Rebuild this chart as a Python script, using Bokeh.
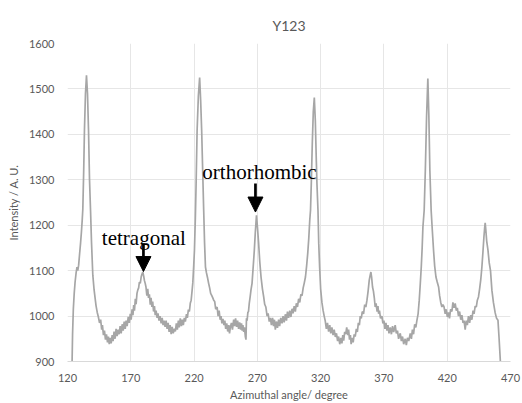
from bokeh.plotting import figure
from bokeh.models import FixedTicker, Arrow, NormalHead, Label, Range1d
from bokeh.embed import file_html
from bokeh.resources import INLINE

# ---- data ----
angle = [
    123.5, 124.0, 124.6, 125.3, 126.0, 126.8, 127.5, 128.1, 128.8, 129.5,
    130.3, 131.0, 131.6, 132.1, 132.8, 133.4, 134.2, 135.0, 135.8, 136.6,
    137.4, 138.2, 139.0, 140.0, 141.0, 142.0, 142.6, 143.5, 144.4, 145.3,
    146.2, 147.0, 147.6, 148.4, 149.2, 150.0, 150.8, 151.6, 152.3, 153.0,
    153.8, 154.5, 155.3, 156.0, 156.8, 157.6, 158.4, 159.2, 160.0, 160.8,
    161.6, 162.4, 163.2, 164.0, 164.8, 165.6, 166.3, 167.1, 168.0, 168.8,
    169.6, 170.3, 171.0, 171.7, 172.3, 172.9, 173.6, 174.2, 174.9, 175.5,
    176.2, 176.8, 177.5, 178.2, 178.8, 179.5, 180.2, 180.8, 181.4, 182.0,
    182.7, 183.4, 184.0, 184.7, 185.4, 186.0, 186.7, 187.3, 188.0, 188.7,
    189.3, 190.0, 190.8, 191.5, 192.3, 193.1, 194.0, 194.8, 195.5, 196.3,
    197.1, 197.9, 198.7, 199.5, 200.3, 201.1, 201.9, 202.7, 203.5, 204.5,
    205.2, 206.0, 206.8, 207.6, 208.3, 209.1, 210.0, 210.7, 211.5, 212.3,
    213.1, 214.0, 214.7, 215.5, 216.3, 217.0, 217.7, 218.4, 219.0, 219.7,
    220.3, 221.0, 221.6, 222.4, 223.4, 224.4, 225.2, 226.0, 226.8, 227.6,
    228.3, 229.0, 229.8, 230.6, 231.5, 232.3, 233.1, 234.0, 234.8, 235.5,
    236.3, 237.1, 238.2, 239.0, 239.8, 240.6, 241.3, 242.0, 242.8, 243.6,
    244.3, 245.0, 245.8, 246.6, 247.4, 248.0, 248.7, 249.5, 250.3, 251.3,
    252.0, 252.8, 253.6, 254.4, 255.2, 256.0, 256.8, 257.5, 258.0, 258.6,
    259.2, 259.8, 260.5, 261.0, 261.4, 261.9, 262.5, 263.0, 263.6, 264.2,
    265.0, 265.8, 266.5, 267.0, 267.6, 268.4, 269.3, 270.1, 271.0, 271.9,
    272.9, 274.0, 275.0, 275.8, 276.7, 277.7, 278.5, 279.4, 280.3, 281.1,
    282.0, 282.8, 283.5, 284.2, 285.0, 285.9, 286.8, 287.6, 288.5, 289.5,
    290.3, 291.2, 292.1, 293.0, 293.8, 294.7, 295.6, 296.5, 297.4, 298.2,
    299.1, 300.0, 300.8, 301.7, 302.6, 303.5, 304.4, 305.3, 306.2, 307.0,
    308.0, 308.9, 309.8, 310.6, 311.4, 312.0, 312.6, 313.4, 314.2, 315.0,
    315.8, 316.6, 317.1, 317.9, 318.5, 319.2, 320.0, 321.0, 321.9, 322.8,
    323.6, 324.5, 325.4, 326.3, 327.2, 328.0, 328.9, 329.8, 330.7, 331.6,
    332.5, 333.4, 334.2, 335.1, 336.0, 336.8, 337.5, 338.2, 339.0, 339.8,
    340.6, 341.4, 342.1, 342.8, 343.5, 344.1, 344.9, 345.7, 346.5, 347.3,
    348.2, 349.0, 349.8, 350.6, 351.3, 352.1, 352.9, 353.9, 354.8, 355.7,
    356.6, 357.5, 358.4, 359.0, 359.7, 360.3, 361.0, 361.7, 362.4, 363.1,
    363.8, 364.6, 365.3, 365.8, 366.5, 367.3, 368.4, 369.2, 370.0, 370.8,
    371.6, 372.4, 373.2, 374.0, 375.0, 375.9, 376.8, 377.7, 378.9, 379.8,
    380.7, 381.6, 382.9, 383.8, 384.7, 385.6, 386.8, 387.7, 388.6, 389.6,
    390.8, 391.7, 392.5, 393.4, 394.3, 395.2, 396.1, 397.0, 397.9, 398.7,
    399.5, 400.2, 400.8, 401.8, 402.7, 403.7, 404.7, 405.5, 406.3, 407.3,
    408.2, 409.2, 410.1, 411.1, 412.1, 413.2, 414.0, 414.9, 415.8, 416.6,
    417.5, 418.4, 419.2, 420.1, 421.0, 421.8, 422.7, 423.7, 424.5, 425.4,
    426.3, 427.2, 428.0, 428.9, 429.8, 430.7, 431.6, 432.5, 433.3, 434.2,
    435.0, 435.9, 436.8, 437.7, 438.6, 439.5, 440.4, 441.2, 442.1, 443.0,
    443.8, 444.7, 445.6, 446.5, 447.4, 448.2, 449.0, 449.6, 450.0, 450.5,
    451.2, 452.2, 453.2, 454.2, 455.3, 456.5, 457.9, 459.0, 460.1, 461.0,
    462.0, 463.0,
]
intensity = [
    880, 960, 1015, 1050, 1075, 1095, 1108, 1100, 1112, 1135,
    1160, 1185, 1210, 1235, 1320, 1410, 1490, 1530, 1490, 1410,
    1300, 1233, 1160, 1090, 1058, 1035, 1022, 1008, 998, 985,
    992, 970, 980, 958, 968, 948, 960, 942, 955, 938,
    952, 940, 958, 945, 966, 950, 972, 956, 970, 960,
    978, 962, 982, 968, 988, 972, 990, 978, 998, 985,
    1005, 992, 1015, 1002, 1024, 1012, 1038, 1026, 1050, 1057,
    1062, 1075, 1072, 1086, 1092, 1097, 1088, 1078, 1072, 1064,
    1045, 1060, 1040, 1048, 1025, 1040, 1020, 1032, 1010, 1022,
    1002, 1012, 996, 1006, 990, 1000, 984, 996, 980, 990,
    976, 990, 972, 985, 965, 980, 960, 976, 962, 972,
    966, 984, 970, 990, 975, 995, 978, 992, 980, 996,
    988, 1004, 996, 1014, 1010, 1028, 1035, 1055, 1073, 1110,
    1145, 1215, 1290, 1409, 1485, 1525, 1475, 1409, 1320, 1233,
    1160, 1108, 1095, 1085, 1072, 1062, 1050, 1045, 1040, 1035,
    1032, 1015, 1020, 1000, 1012, 992, 1000, 984, 994, 980,
    990, 972, 984, 966, 980, 962, 976, 985, 970, 992,
    978, 995, 976, 990, 972, 986, 970, 984, 968, 980,
    965, 975, 955, 948, 995, 990, 1008, 1010, 1028, 1040,
    1058, 1072, 1100, 1120, 1145, 1185, 1222, 1195, 1160, 1120,
    1086, 1060, 1042, 1026, 1020, 1000, 1006, 988, 996, 980,
    996, 978, 992, 970, 988, 974, 992, 978, 996, 984,
    1000, 986, 1004, 990, 1010, 996, 1012, 998, 1016, 1006,
    1022, 1010, 1028, 1020, 1038, 1030, 1048, 1045, 1062, 1072,
    1086, 1110, 1138, 1170, 1211, 1233, 1290, 1380, 1450, 1481,
    1430, 1340, 1290, 1233, 1160, 1108, 1060, 1030, 1013, 1000,
    990, 972, 985, 966, 980, 962, 975, 958, 970, 954,
    962, 945, 955, 938, 952, 940, 958, 946, 965, 960,
    975, 958, 970, 948, 958, 938, 952, 942, 960, 955,
    972, 965, 985, 980, 1000, 995, 1010, 1005, 1025, 1020,
    1035, 1055, 1079, 1088, 1097, 1085, 1064, 1055, 1040, 1020,
    1028, 1010, 1022, 1005, 1012, 995, 1000, 984, 990, 972,
    985, 968, 980, 962, 975, 960, 978, 965, 980, 962,
    968, 950, 962, 945, 955, 938, 950, 936, 952, 945,
    962, 950, 970, 960, 982, 975, 991, 1005, 1035, 1070,
    1108, 1150, 1196, 1233, 1320, 1440, 1523, 1440, 1320, 1233,
    1190, 1145, 1110, 1086, 1075, 1064, 1045, 1030, 1020, 1025,
    1020, 1005, 1015, 998, 1008, 995, 1015, 1010, 1030, 1018,
    1028, 1012, 1018, 1000, 1010, 992, 1002, 985, 990, 970,
    990, 980, 1000, 985, 1002, 992, 1012, 1005, 1022, 1020,
    1035, 1042, 1060, 1080, 1108, 1140, 1174, 1195, 1205, 1190,
    1165, 1145, 1117, 1100, 1057, 1030, 1007, 995, 991, 950,
    900, 860,
]

x_ticks = [120, 170, 220, 270, 320, 370, 420, 470]
y_ticks = [900, 1000, 1100, 1200, 1300, 1400, 1500, 1600]

# annotations (peak labels)
ann_text = ["tetragonal", "orthorhombic"]
ann_angle = [180.0, 268.5]          # arrow position
ann_tip = [1098, 1229]              # arrow tip intensity
ann_tail = [1160, 1292]             # arrow tail intensity
ann_text_angle = [180.3, 271.7]
ann_text_base = [1172, 1317]

FONT = "Lato"
GRAY = "#595959"

p = figure(width=522, height=403, output_backend="svg", toolbar_location=None,
           x_range=Range1d(120, 470), y_range=Range1d(900, 1600),
           min_border_left=67, min_border_right=12, min_border_top=43, min_border_bottom=41,
           title="Y123")
p.outline_line_color = None
p.background_fill_color = "white"
p.border_fill_color = "white"

p.title.align = "center"
p.title.text_font = FONT
p.title.text_font_size = "14px"
p.title.text_font_style = "normal"
p.title.text_color = GRAY
p.title.standoff = 19

p.line(angle, intensity, line_color="#a6a6a6", line_width=1.7)

p.xaxis.ticker = FixedTicker(ticks=x_ticks)
p.yaxis.ticker = FixedTicker(ticks=y_ticks)
p.xgrid.ticker = FixedTicker(ticks=x_ticks)
p.ygrid.ticker = FixedTicker(ticks=y_ticks)
p.grid.grid_line_color = "#e6e6e6"
p.grid.grid_line_width = 1

for ax in (p.xaxis[0], p.yaxis[0]):
    ax.major_tick_line_color = None
    ax.minor_tick_line_color = None
    ax.major_tick_out = 0
    ax.major_tick_in = 0
    ax.major_label_text_font = FONT
    ax.major_label_text_font_size = "11px"
    ax.major_label_text_color = GRAY
    ax.axis_label_text_font = FONT
    ax.axis_label_text_font_size = "11px"
    ax.axis_label_text_font_style = "normal"
    ax.axis_label_text_color = GRAY

p.xaxis.axis_line_color = "#d9d9d9"
p.yaxis.axis_line_color = None
p.xaxis.major_label_standoff = 12
p.yaxis.major_label_standoff = 13
p.xaxis.axis_label = "Azimuthal angle/ degree"
p.yaxis.axis_label = "Intensity / A. U."
p.xaxis.axis_label_standoff = 3
p.yaxis.axis_label_standoff = 6

for txt, ax_, tip, tail, tx, ty in zip(ann_text, ann_angle, ann_tip, ann_tail,
                                         ann_text_angle, ann_text_base):
    p.add_layout(Arrow(x_start=ax_, y_start=tail, x_end=ax_, y_end=tip,
                       line_color="black", line_width=2.7,
                       end=NormalHead(size=15, fill_color="black", line_color="black", line_width=1)))
    p.add_layout(Label(x=tx, y=ty, text=txt, text_font="Liberation Serif",
                       text_font_size="21px", text_color="black",
                       text_align="center", text_baseline="alphabetic"))

open("out.html", "w").write(file_html(p, INLINE))
